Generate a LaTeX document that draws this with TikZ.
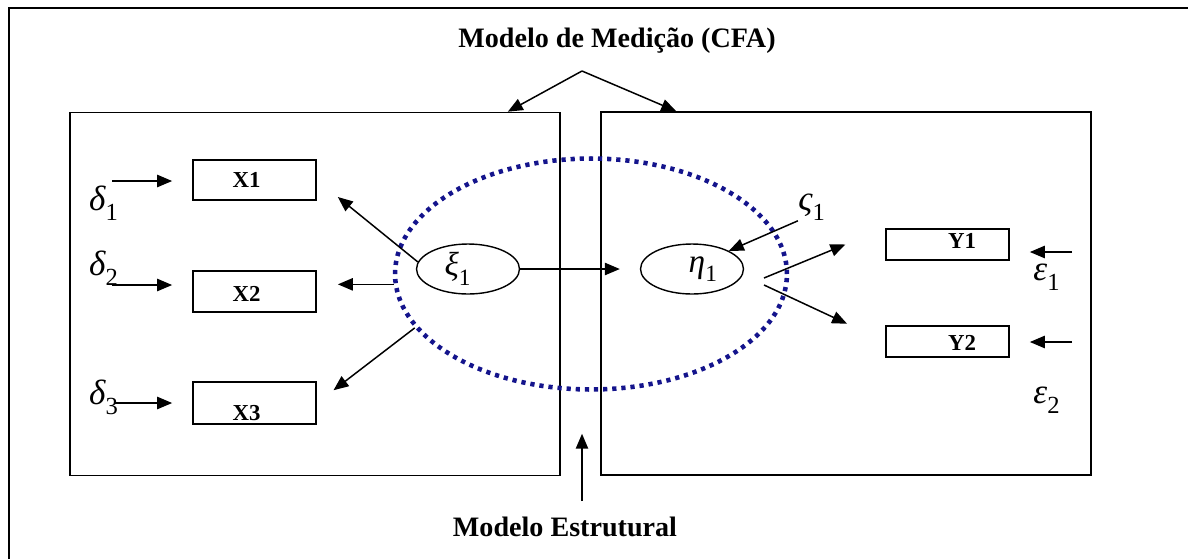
\documentclass[tikz,border=0pt]{standalone}
\usepackage{fontspec}
\setmainfont{Liberation Serif}
\usepackage{tikz}
\usetikzlibrary{arrows.meta,positioning,calc,shapes.geometric}
\definecolor{dotblue}{RGB}{20,20,140}
\newcommand{\gsub}[2]{{\itshape #1}\raisebox{-0.3ex}{\textsubscript{#2}}}

\begin{document}
\begin{tikzpicture}[
  x=0.02cm, y=-0.02cm,
  box/.style={draw, line width=1pt, minimum width=2.46cm, minimum height=0.8cm, inner sep=0pt},
  boxtxt/.style={font=\bfseries\fontsize{13}{15}\selectfont},
  panel/.style={draw, line width=1pt, minimum width=9.8cm, minimum height=7.26cm, inner sep=0pt},
  latent/.style={draw, ellipse, line width=0.8pt, minimum width=2.06cm, minimum height=1cm, inner sep=0pt, font=\fontsize{19}{21}\selectfont},
  greek/.style={inner sep=0pt, font=\fontsize{20}{22}\selectfont},
  title/.style={font=\bfseries\fontsize{16}{18}\selectfont},
  arrow/.style={-{Triangle[length=8.5pt,width=7pt]}, line width=0.85pt}
]
\useasboundingbox (0,0) rectangle (1188,559);
\draw[line width=1.2pt] (9,559) -- (9,8) -- (1188,8);

% the two measurement panels
\node[panel] (lpanel) at (315,294) {};
\node[panel] (rpanel) at (846,293.5) {};

% structural part
\node[draw=dotblue, ellipse, line width=2.6pt, dash pattern=on 2.4pt off 2.8pt,
      minimum width=7.84cm, minimum height=4.62cm] (struct) at (591,274) {};
\node[latent] (xi) at (468,269) {\gsub{ξ}{1}\hspace*{0.4cm}};
\node[latent] (eta) at (692,269) {\hspace*{0.45cm}\gsub{η}{1}};

% indicators
\node[box, label={[boxtxt, xshift=-0.16cm]center:X1}] (X1) at (254.5,180) {};
\node[box, minimum height=0.82cm, label={[boxtxt, xshift=-0.16cm, yshift=-0.04cm]center:X2}] (X2) at (254.5,291.5) {};
\node[box, minimum height=0.84cm, label={[boxtxt, xshift=-0.16cm, yshift=-0.2cm]center:X3}] (X3) at (254.5,403) {};
\node[box, minimum height=0.62cm, label={[boxtxt, xshift=0.29cm, yshift=0.07cm]center:Y1}] (Y1) at (947.5,244.5) {};
\node[box, minimum height=0.62cm, label={[boxtxt, xshift=0.29cm, yshift=-0.03cm]center:Y2}] (Y2) at (947.5,341.5) {};

% error terms
\node[greek] (d1) at (104,203) {\gsub{δ}{1}};
\node[greek] (d2) at (104,268) {\gsub{δ}{2}};
\node[greek] (d3) at (104,397) {\gsub{δ}{3}};
\node[greek] (e1) at (1047,277) {\gsub{ε}{1}};
\node[greek] (e2) at (1047,400) {\gsub{ε}{2}};
\node[greek] (zeta) at (812,207) {\gsub{ς}{1}};
\coordinate (d1s) at (112,181);
\coordinate (d2s) at (112,285);
\coordinate (d3s) at (115,403);
\coordinate (e1s) at (1072,252);
\coordinate (e2s) at (1072,342);

\draw[arrow, shorten >=0.4cm] (d1s) -- (X1.west |- d1s);
\draw[arrow, shorten >=0.4cm] (d2s) -- (X2.west |- d2s);
\draw[arrow, shorten >=0.4cm] (d3s) -- (X3.west |- d3s);
\draw[arrow, shorten >=0.4cm] (e1s) -- (Y1.east |- e1s);
\draw[arrow, shorten >=0.4cm] (e2s) -- (Y2.east |- e2s);

% loadings
\draw[arrow, shorten >=0.54cm] (xi.172) -- (X1.east);
\draw[arrow, shorten >=0.42cm] (struct.183) -- (X2.east |- struct.183);
\draw[arrow, shorten >=0.42cm] (struct.197) -- (X3.east);
\coordinate (eo1) at (764,278);
\coordinate (eo2) at (764,285);
\draw[arrow, shorten >=0.86cm] (eo1) -- (Y1.north west);
\draw[arrow, shorten >=0.84cm] (eo2) -- (Y2.west);

% structural paths
\draw[arrow, shorten >=0.4cm] (xi.east) -- (eta.west);
\draw[arrow] (zeta.south west) -- (eta.north east);

% titles
\node[title] (cfa) at (617,41) {Modelo de Medição (CFA)};
\coordinate (apex) at (582,71);
\draw[arrow] (apex) -- ($(lpanel.north east)+(-53,0)$);
\draw[arrow] (apex) -- ($(rpanel.north west)+(76,0)$);
\node[title] (estr) at (565,527) {Modelo Estrutural};
\coordinate (sbase) at (582,501);
\draw[arrow, shorten >=0.84cm] (sbase) -- (sbase |- struct.south);
\end{tikzpicture}
\end{document}
